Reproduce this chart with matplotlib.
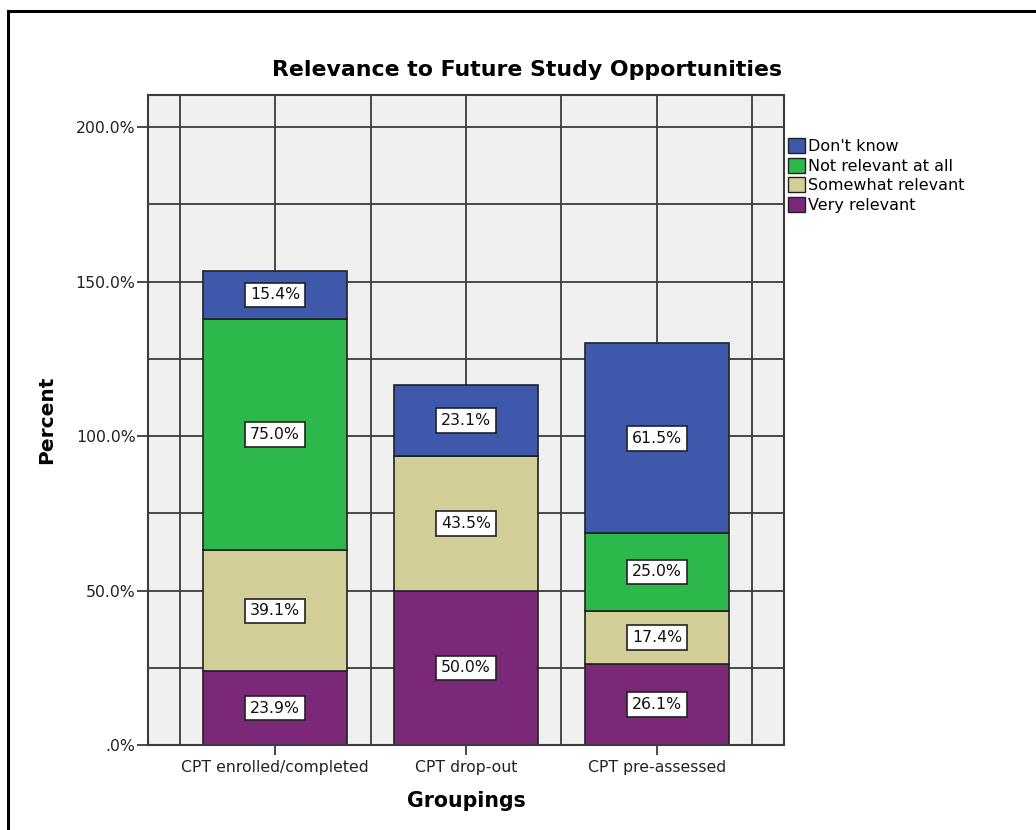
import matplotlib
matplotlib.use("Agg")
import matplotlib.pyplot as plt
from matplotlib.lines import Line2D
from matplotlib.patches import Patch
import numpy as np

plt.rcParams['font.family'] = ['DejaVu Sans']

groups = ["CPT enrolled/completed", "CPT drop-out", "CPT pre-assessed"]
# stacked from bottom to top
very_relevant = [23.9, 50.0, 26.1]
somewhat_relevant = [39.1, 43.5, 17.4]
not_relevant = [75.0, 0.0, 25.0]
dont_know = [15.4, 23.1, 61.5]

series = [
    ("Very relevant", very_relevant, "#7B2878"),
    ("Somewhat relevant", somewhat_relevant, "#D3CE97"),
    ("Not relevant at all", not_relevant, "#2DB84B"),
    ("Don't know", dont_know, "#3E58AC"),
]

W, H = 1036, 830
fig = plt.figure(figsize=(W / 100, H / 100), dpi=100)
ax = fig.add_axes([148 / W, 1 - 745 / H, 636 / W, 650 / H])
ax.set_facecolor("#F0F0F0")

grid_color = "#3C3C3C"
ax.set_xlim(-0.665, 2.665)
ax.set_ylim(0, 210.4)
for yv in np.arange(25, 210, 25):
    ax.axhline(yv, color=grid_color, lw=1.3, zorder=1)
for xv in np.arange(-0.5, 2.6, 0.5):
    ax.axvline(xv, color=grid_color, lw=1.3, zorder=1)

x = np.arange(len(groups))
bottom = np.zeros(len(groups))
for name, vals, color in series:
    vals = np.array(vals)
    ax.bar(x, vals, width=0.755, bottom=bottom, color=color,
           edgecolor="#222222", linewidth=1.2, zorder=2)
    for xi, b, v in zip(x, bottom, vals):
        if v > 0:
            ax.text(xi, b + v / 2, f"{v:.1f}%", ha="center", va="center",
                    fontsize=11.3, color="#111111", zorder=3,
                    bbox=dict(boxstyle="square,pad=0.3", fc="white",
                              ec="#222222", lw=1.2))
    bottom += vals

ax.set_yticks([0, 50, 100, 150, 200])
ax.set_yticklabels([".0%", "50.0%", "100.0%", "150.0%", "200.0%"])
ax.set_xticks(x)
ax.set_xticklabels(groups)
ax.tick_params(axis="y", length=8, width=1.3, color=grid_color,
               labelsize=11.3, labelcolor="#222222", pad=1)
ax.tick_params(axis="x", length=7, width=1.3, color=grid_color,
               labelsize=11.3, labelcolor="#222222", pad=4)
for sp in ax.spines.values():
    sp.set_color(grid_color)
    sp.set_linewidth(1.5)

ax.set_ylabel("Percent", fontsize=14.5, fontweight="bold", labelpad=14)
ax.set_xlabel("Groupings", fontsize=14.8, fontweight="bold", labelpad=11)

fig.text(527 / W, 1 - 70 / H, "Relevance to Future Study Opportunities",
         ha="center", va="center", fontsize=15.8, fontweight="bold")

handles = [Patch(facecolor=c, edgecolor="#222222", lw=1.0, label=n)
           for n, _, c in reversed(series)]
fig.legend(handles=handles, loc="upper left",
           bbox_to_anchor=(788 / W, 1 - 138 / H), frameon=False,
           fontsize=11.5, handlelength=1.05, handleheight=1.05,
           handletextpad=0.2, labelspacing=0.24, borderpad=0.0,
           borderaxespad=0.0)

# frame lines along the top and left edges of the figure
fig.add_artist(Line2D([8 / W, 1.0], [1 - 11 / H, 1 - 11 / H], color="black",
                      lw=2.2, transform=fig.transFigure))
fig.add_artist(Line2D([8 / W, 8 / W], [0.0, 1 - 11 / H], color="black",
                      lw=2.2, transform=fig.transFigure))

fig.savefig("out.png", dpi=100, facecolor="white")
